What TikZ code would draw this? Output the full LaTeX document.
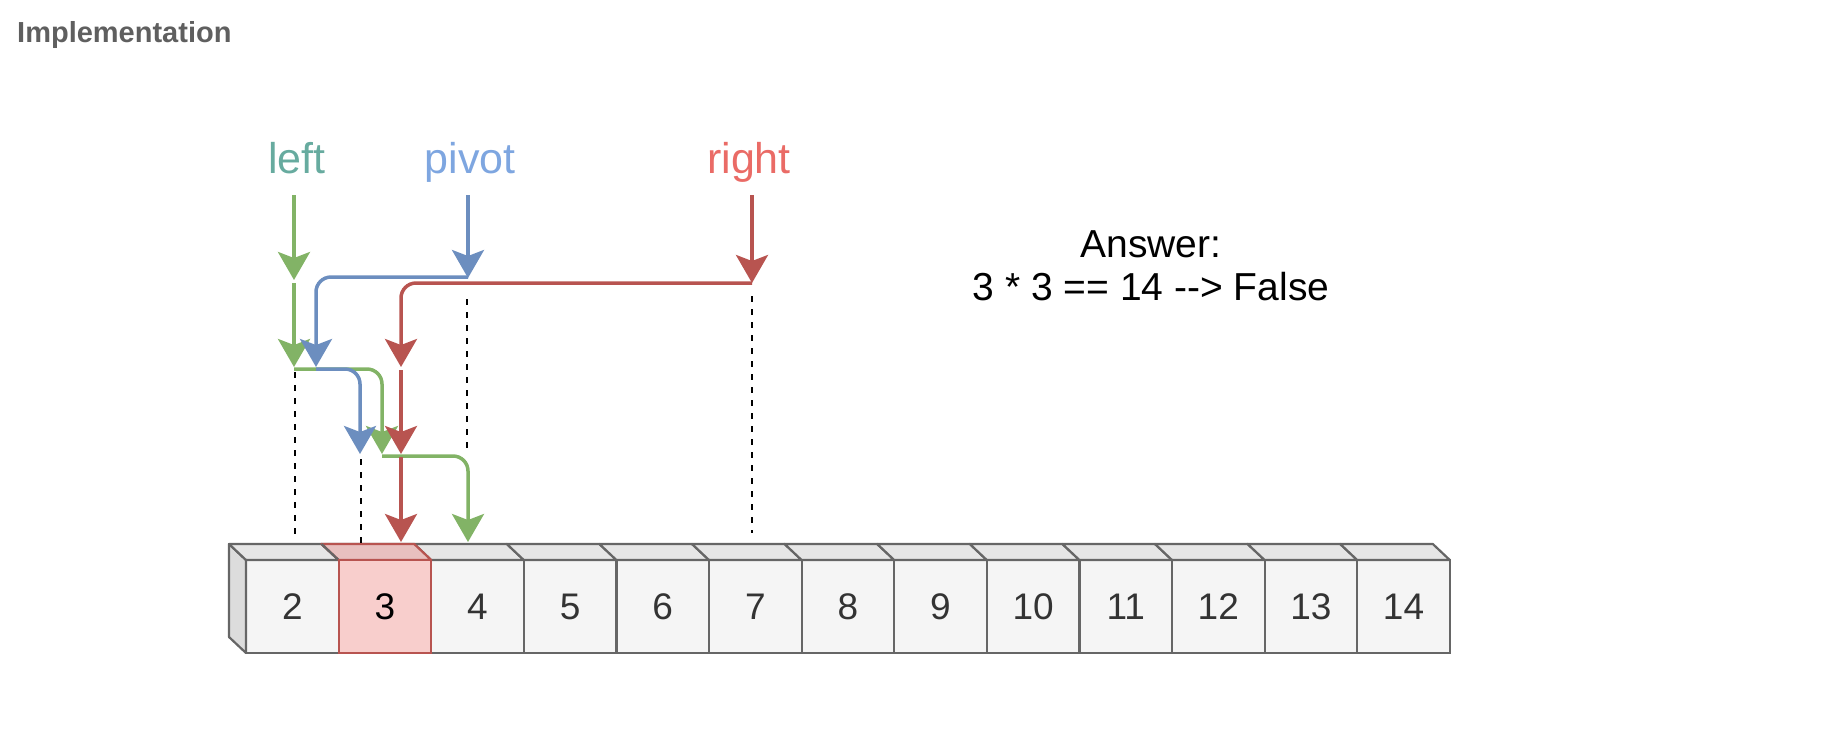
\documentclass[tikz,border=0pt]{standalone}
\usepackage{fontspec}
\setmainfont{Liberation Sans}
\usetikzlibrary{arrows.meta}
\definecolor{gline}{HTML}{82B366}
\definecolor{bline}{HTML}{6C8EBF}
\definecolor{rline}{HTML}{B85450}
\definecolor{ltext}{HTML}{67AB9F}
\definecolor{ptext}{HTML}{7EA6E0}
\definecolor{rtext}{HTML}{EA6B66}
\definecolor{cellfill}{HTML}{F5F5F5}
\definecolor{celltop}{HTML}{E6E6E6}
\definecolor{cellside}{HTML}{DCDCDC}
\definecolor{cellline}{HTML}{666666}
\definecolor{pinkfill}{HTML}{F8CECC}
\definecolor{pinktop}{HTML}{E8C0BF}
\definecolor{celltext}{HTML}{333333}
\definecolor{titlegray}{HTML}{5F5F5F}
\begin{document}
\begin{tikzpicture}[x=1pt,y=-1pt,
  titlestyle/.style={anchor=base west, inner sep=0, font=\fontsize{29}{34}\selectfont\bfseries, text=titlegray},
  lbl/.style={anchor=base, inner sep=0, font=\fontsize{43}{50}\selectfont},
  anstext/.style={anchor=base, inner sep=0, font=\fontsize{39}{45}\selectfont, text=black},
  cell/.style={draw=cellline, fill=cellfill, line width=2.2pt, minimum width=92.6pt, minimum height=93pt, inner sep=0, outer sep=0, text=celltext, font=\fontsize{37}{42}\selectfont},
  topface/.style={draw=cellline, fill=celltop, line width=2.2pt, line join=round},
  sideface/.style={draw=cellline, fill=cellside, line width=2.2pt, line join=round},
  tipstyle/.style={-{Stealth[length=28pt,width=32pt,inset=6pt]}},
  garrow/.style={tipstyle, draw=gline, line width=3.5pt, rounded corners=15pt},
  barrow/.style={tipstyle, draw=bline, line width=3.5pt, rounded corners=15pt},
  rarrow/.style={tipstyle, draw=rline, line width=3.5pt, rounded corners=15pt},
  guide/.style={draw=black, line width=2.5pt, dash pattern=on 6pt off 7pt}
]
\path[use as bounding box] (0,0) rectangle (1832,732);

% title
\node[titlestyle] (title) at (17,42) {Implementation};

% labels
\node[lbl, text=ltext] (lleft) at (297,173) {left};
\node[lbl, text=ptext] (lpivot) at (470,173) {pivot};
\node[lbl, text=rtext] (lright) at (749,173) {right};

% answer
\node[anstext] (ans1) at (1151,257) {Answer:};
\node[anstext] (ans2) at (1151,300) {3 * 3 == 14 -{}-{}> False};

% cells
\foreach \n in {2,...,14} {
  \pgfmathsetmacro\cx{246+(\n-2)*92.6+46.3}
  \node[cell] (c\n) at (\cx,606.5) {\n};
}
\filldraw[sideface] (c2.north west) -- ++(-17,-16) -- ++(0,93) -- (c2.south west) -- cycle;
\foreach \n in {2,...,14} {
  \filldraw[topface] (c\n.north west) -- ++(-17,-16) -- ++(92.6,0) -- (c\n.north east) -- cycle;
}
% highlighted cell
\filldraw[topface, fill=pinktop, draw=rline] (c3.north west) -- ++(-17,-16) -- ++(92.6,0) -- (c3.north east) -- cycle;
\draw[cellline, line width=2.2pt] (c3.north west) -- ++(-17,-16);
\node[cell, fill=pinkfill, draw=rline, text=black] (c3h) at (c3) {3};

% guide lines
\coordinate (d1a) at (295,372); \coordinate (d1b) at (295,535);
\coordinate (d2a) at (361,459); \coordinate (d2b) at (361,544);
\coordinate (d3a) at (467,299); \coordinate (d3b) at (467,448);
\coordinate (d4a) at (752,296); \coordinate (d4b) at (752,533);
\draw[guide] (d1a) -- (d1b);
\draw[guide] (d2a) -- (d2b);
\draw[guide] (d3a) -- (d3b);
\draw[guide] (d4a) -- (d4b);

% arrow coordinates
\coordinate (lt) at (294,195);  \coordinate (lh) at (294,280);
\coordinate (g2a) at (294,283); \coordinate (g2b) at (294,367);
\coordinate (g3a) at (294,369); \coordinate (g3b) at (382,454);
\coordinate (g4a) at (382,456); \coordinate (g4b) at (468,542);
\coordinate (pt) at (468,195);  \coordinate (ph) at (468,278);
\coordinate (b2a) at (468,277); \coordinate (b2b) at (316,367);
\coordinate (b3a) at (316,369); \coordinate (b3b) at (360,454);
\coordinate (rt) at (752,195);  \coordinate (rh) at (752,283);
\coordinate (r2a) at (752,283); \coordinate (r2b) at (401,367);
\coordinate (r3a) at (401,370); \coordinate (r3b) at (401,454);
\coordinate (r4a) at (401,457); \coordinate (r4b) at (401,542);

% green
\draw[garrow] (lt) -- (lh);
\draw[garrow] (g2a) -- (g2b);
\draw[garrow] (g3a) -| (g3b);
\draw[garrow] (g4a) -| (g4b);
% blue
\draw[barrow] (pt) -- (ph);
\draw[barrow] (b2a) -| (b2b);
\draw[barrow] (b3a) -| (b3b);
% red
\draw[rarrow] (rt) -- (rh);
\draw[rarrow] (r2a) -| (r2b);
\draw[rarrow] (r3a) -- (r3b);
\draw[rarrow] (r4a) -- (r4b);
\end{tikzpicture}
\end{document}
